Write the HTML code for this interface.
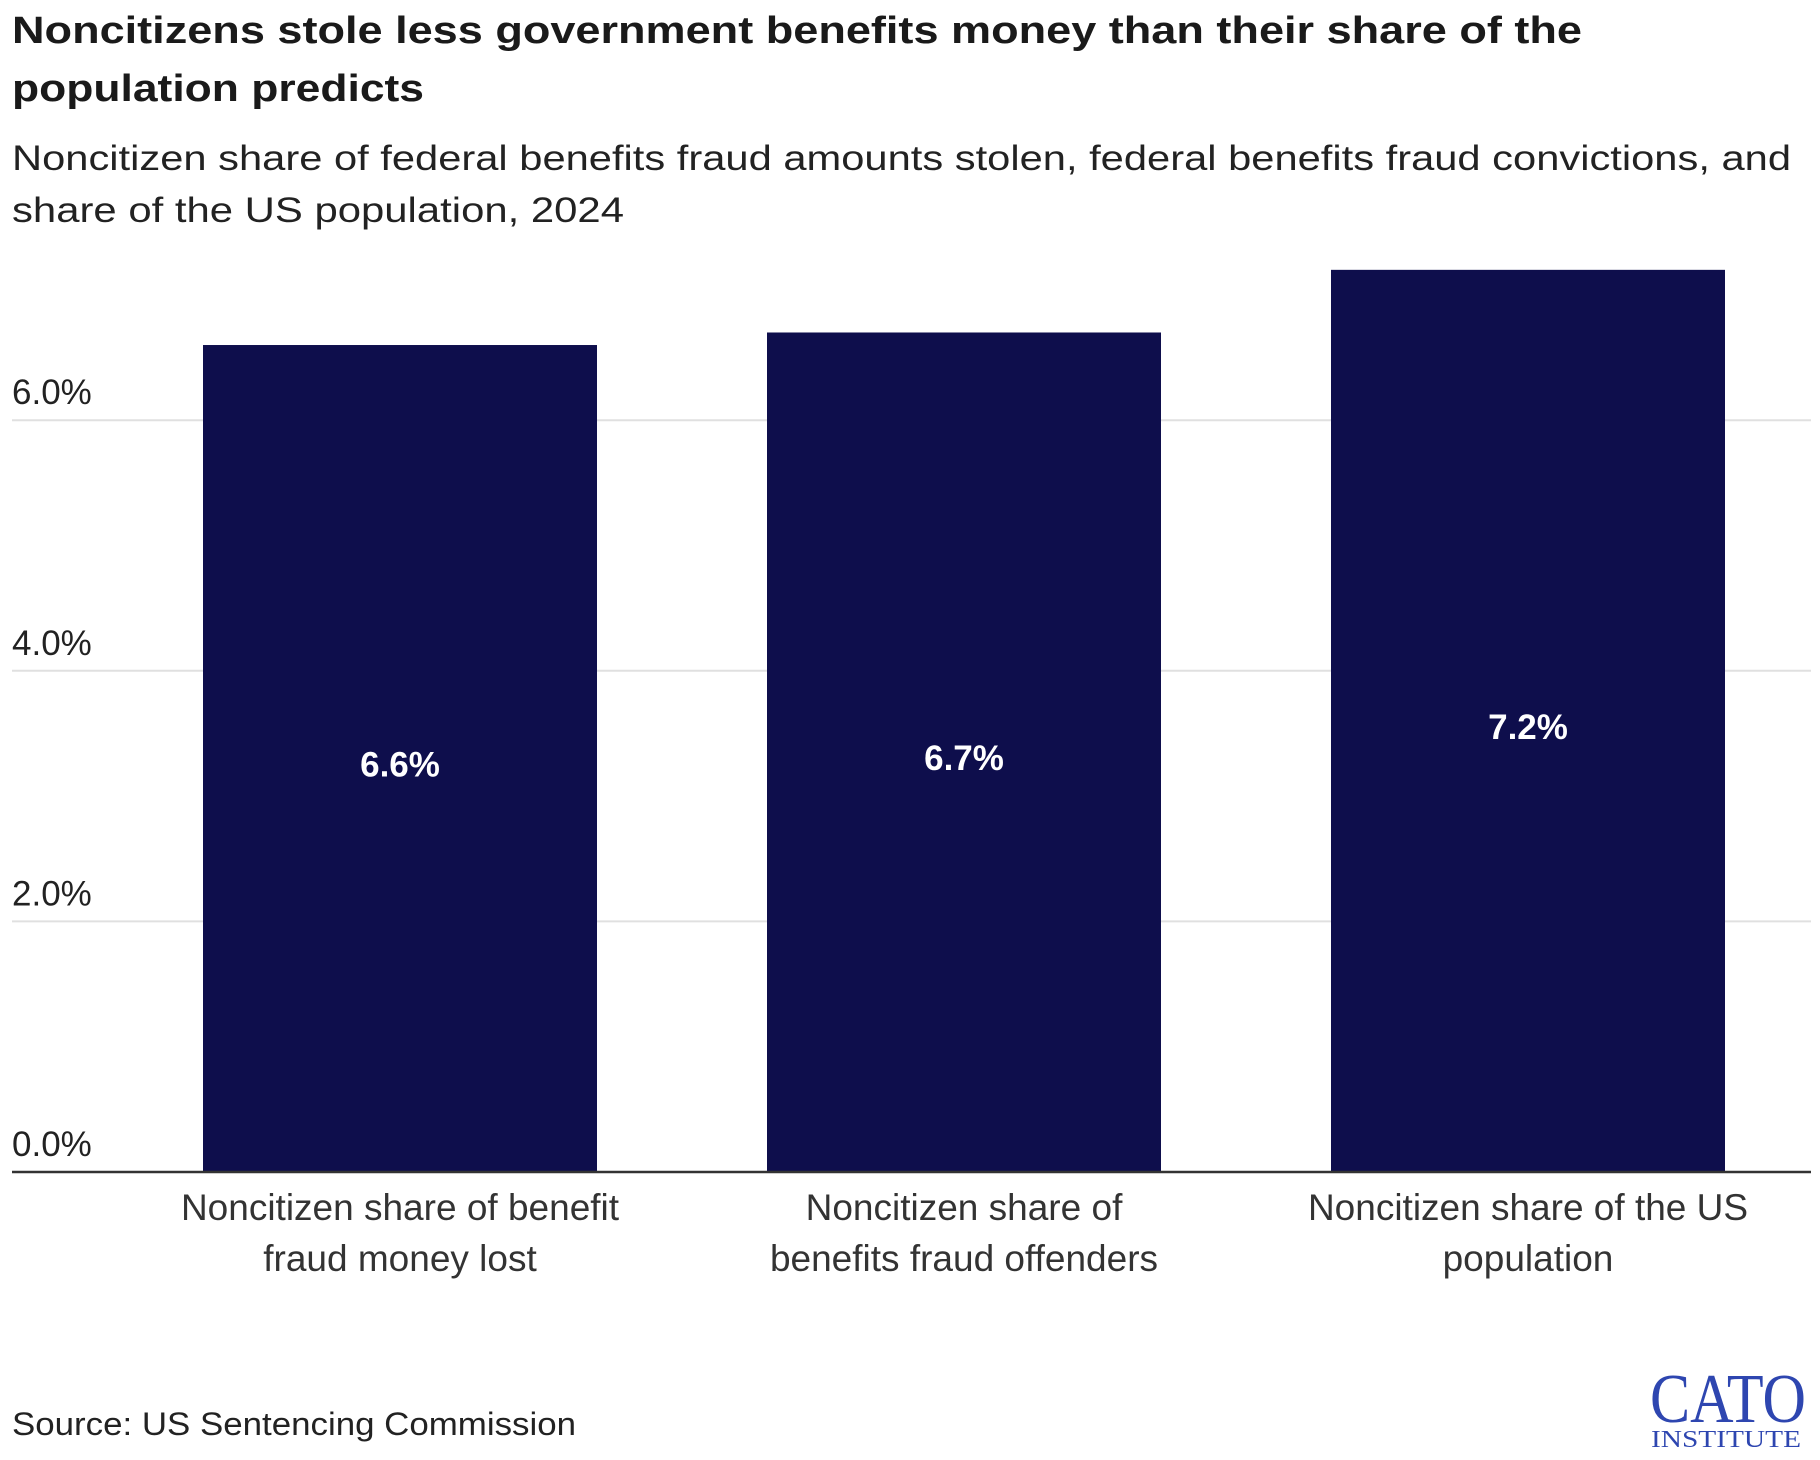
<!DOCTYPE html>
<html><head><meta charset="utf-8"><style>
html,body{margin:0;padding:0;background:#fff;}
svg{display:block;font-family:"Liberation Sans",sans-serif;}
</style></head><body>
<svg id="chart" width="1820" height="1460" viewBox="0 0 1820 1460" xmlns="http://www.w3.org/2000/svg">
<text x="12" y="43" font-size="38" font-weight="bold" fill="#1a1a1a" textLength="1570" lengthAdjust="spacingAndGlyphs">Noncitizens stole less government benefits money than their share of the</text>
<text x="12" y="101" font-size="38" font-weight="bold" fill="#1a1a1a" textLength="412" lengthAdjust="spacingAndGlyphs">population predicts</text>
<text x="12" y="170" font-size="35" fill="#222" textLength="1779" lengthAdjust="spacingAndGlyphs">Noncitizen share of federal benefits fraud amounts stolen, federal benefits fraud convictions, and</text>
<text x="12" y="222" font-size="35" fill="#222" textLength="612" lengthAdjust="spacingAndGlyphs">share of the US population, 2024</text>
<g id="grid"></g>
<g id="bars"></g>
<line x1="12" x2="1811" y1="1172" y2="1172" stroke="#333" stroke-width="2.5"/>
<g id="xlabels"></g>
<text x="12" y="1435" font-size="32" fill="#222" textLength="564" lengthAdjust="spacingAndGlyphs">Source: US Sentencing Commission</text>
<g>
<text x="1728" y="1422" font-family="Liberation Serif,serif" font-size="70" fill="#2e46b0" text-anchor="middle" textLength="156" lengthAdjust="spacingAndGlyphs">CATO</text>
<text x="1726" y="1447" font-family="Liberation Serif,serif" font-size="24" fill="#2e46b0" text-anchor="middle" textLength="150" lengthAdjust="spacingAndGlyphs">INSTITUTE</text>
</g>
</svg>
<script>
const categories = [["Noncitizen share of benefit","fraud money lost"],["Noncitizen share of","benefits fraud offenders"],["Noncitizen share of the US","population"]];
const values = [6.6, 6.7, 7.2];
const valueLabels = ["6.6%","6.7%","7.2%"];
const ticks = [0, 2, 4, 6];
const tickLabels = ["0.0%","2.0%","4.0%","6.0%"];
const NS="http://www.w3.org/2000/svg";
const y0=1172, unit=125.3;
function yScale(v){return y0-v*unit;}
function xCenter(i){return 400+i*564;}
const barW=394;
const grid=document.getElementById('grid');
ticks.forEach((t,i)=>{
  if(t!==0){
    const l=document.createElementNS(NS,'line');
    
    
    l.setAttribute('x1',12);l.setAttribute('x2',1811);
    l.setAttribute('y1',yScale(t));l.setAttribute('y2',yScale(t));
    l.setAttribute('stroke','#e0e0e0');l.setAttribute('stroke-width','2');
    grid.appendChild(l);
  }
  const tx=document.createElementNS(NS,'text');
  
  
  tx.setAttribute('x',12);tx.setAttribute('y',yScale(t)-16);
  tx.setAttribute('font-size','35');tx.setAttribute('fill','#222');
  tx.textContent=tickLabels[i];
  grid.appendChild(tx);
});
const bars=document.getElementById('bars');
const xl=document.getElementById('xlabels');
values.forEach((v,i)=>{
  const r=document.createElementNS(NS,'rect');
  
  
  r.setAttribute('x',xCenter(i)-barW/2);r.setAttribute('width',barW);
  r.setAttribute('y',yScale(v));r.setAttribute('height',y0-yScale(v));
  r.setAttribute('fill','#0e0e4c');
  bars.appendChild(r);
  const t=document.createElementNS(NS,'text');
  
  
  t.setAttribute('x',xCenter(i));t.setAttribute('y',(yScale(v)+y0)/2+18);
  t.setAttribute('text-anchor','middle');t.setAttribute('font-size','35');
  t.setAttribute('font-weight','bold');t.setAttribute('fill','#fff');
  t.textContent=valueLabels[i];
  bars.appendChild(t);
  categories[i].forEach((line,j)=>{
    const c=document.createElementNS(NS,'text');
    
    
    c.setAttribute('x',xCenter(i));c.setAttribute('y',1220+j*51);
    c.setAttribute('text-anchor','middle');c.setAttribute('font-size','37');
    c.setAttribute('fill','#333');
    c.textContent=line;
    xl.appendChild(c);
  });
});
</script>
</body></html>
